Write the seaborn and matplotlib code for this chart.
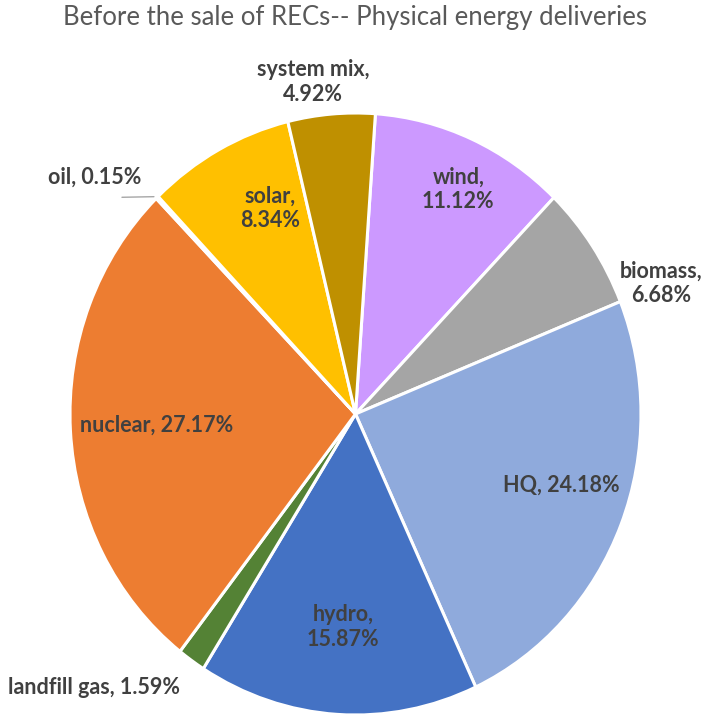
import matplotlib
matplotlib.use("Agg")
import matplotlib.pyplot as plt
import seaborn as sns

# Energy sources, in clockwise order from the top of the pie
sources = ["wind", "biomass", "HQ", "hydro", "landfill gas", "nuclear",
           "oil", "solar", "system mix"]
shares = [11.12, 6.68, 24.18, 15.87, 1.59, 27.17, 0.15, 8.34, 4.92]
colors = ["#CC99FF", "#A5A5A5", "#8FAADC", "#4472C4", "#548235", "#ED7D31",
          "#264478", "#FFC000", "#BF9000"]

# Label text layout: which labels break onto two lines
two_line = {"wind", "biomass", "hydro", "solar", "system mix"}
# Label anchor positions (axes data units, pie radius = 1)
label_pos = {
    "wind": (0.36, 0.745),
    "biomass": (1.07, 0.435),
    "HQ": (0.72, -0.236),
    "hydro": (-0.044, -0.708),
    "landfill gas": (-0.915, -0.91),
    "nuclear": (-0.695, -0.037),
    "oil": (-0.915, 0.787),
    "solar": (-0.30, 0.684),
    "system mix": (-0.149, 1.103),
}

sns.set_theme(style="white")
plt.rcParams["font.family"] = ["Lato", "DejaVu Sans"]

W, H = 710, 721
fig = plt.figure(figsize=(W / 100, H / 100), dpi=100)

cx, cy, rx, ry = 355.5, 414.0, 285.5, 301.0
ax = fig.add_axes([(cx - rx) / W, (H - cy - ry) / H, 2 * rx / W, 2 * ry / H])
ax.pie(shares, colors=colors, startangle=86, counterclock=False,
       wedgeprops=dict(edgecolor="white", linewidth=2.2))
ax.set_aspect("auto")
ax.set_xlim(-1, 1)
ax.set_ylim(-1, 1)
ax.axis("off")

for name, val in zip(sources, shares):
    sep = ",\n" if name in two_line else ", "
    x, y = label_pos[name]
    ax.text(x, y, f"{name}{sep}{val:.2f}%", ha="center", va="center",
            fontsize=15.5, fontweight="bold", color="#404040",
            linespacing=1.2, clip_on=False)

# leader line for the tiny oil slice
ax.plot([-0.818, -0.706], [0.720, 0.722], color="#A6A6A6", lw=1,
        clip_on=False)

fig.text(0.5, 1 - 17 / H, "Before the sale of RECs-- Physical energy deliveries",
         ha="center", va="center", fontsize=18.5, color="#595959")

fig.savefig("out.png", dpi=100)
